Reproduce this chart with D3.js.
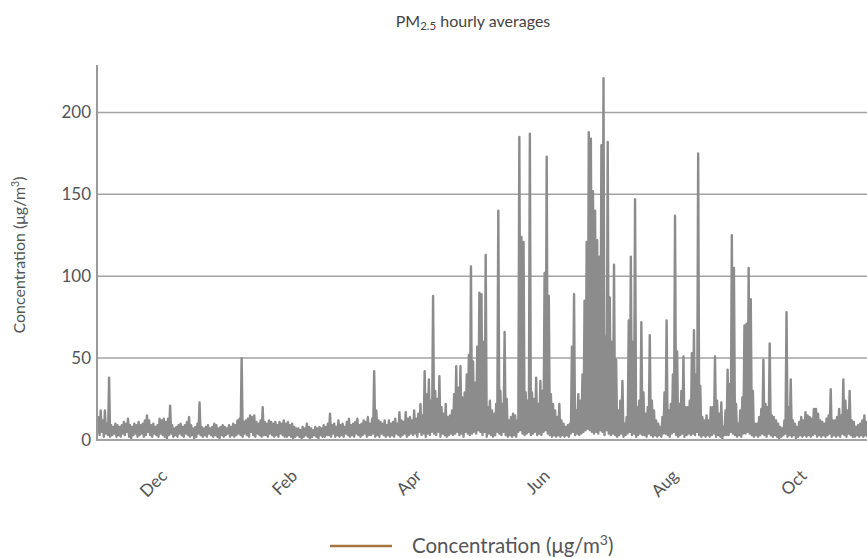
<!DOCTYPE html>
<html>
<head>
<meta charset="utf-8">
<script src="https://cdn.jsdelivr.net/npm/d3@7"></script>
<style>
  body { margin: 0; background: #fff; }
  svg { display: block; font-family: Lato, "Open Sans", sans-serif; }
</style>
</head>
<body>
<svg id="chart" width="867" height="558"></svg>
<script>
// Series start (first day of data)
const startDate = "2020-10-27";
const endDate = "2021-10-28";

// Daily peak of the hourly PM2.5 values, one per day from startDate
const dailyHigh = [
  14, 18, 12, 18, 10, 38, 9, 8, 10, 9,
  8, 9, 11, 10, 13, 9, 8, 10, 9, 11,
  9, 10, 12, 15, 12, 9, 10, 8, 9, 13,
  12, 13, 11, 13, 21, 9, 7, 8, 9, 10,
  8, 9, 11, 14, 9, 7, 8, 10, 23, 8,
  7, 8, 9, 7, 8, 10, 9, 7, 8, 9,
  8, 7, 9, 8, 10, 9, 12, 13, 50, 11,
  12, 13, 15, 14, 15, 11, 10, 12, 20, 11,
  10, 12, 11, 10, 11, 9, 11, 10, 12, 10,
  11, 9, 10, 8, 7, 7, 6, 8, 7, 10,
  8, 7, 6, 8, 7, 8, 7, 9, 8, 10,
  16, 9, 10, 8, 12, 9, 10, 8, 11, 13,
  9, 10, 11, 13, 9, 10, 12, 11, 14, 10,
  13, 42, 18, 12, 11, 10, 12, 9, 12, 10,
  11, 13, 10, 17, 12, 11, 17, 13, 14, 12,
  18, 13, 16, 22, 15, 42, 28, 37, 24, 88,
  30, 25, 39, 20, 16, 22, 14, 15, 18, 28,
  45, 32, 45, 26, 29, 40, 52, 106, 48, 35,
  57, 90, 89, 60, 113, 20, 24, 18, 16, 22,
  140, 30, 22, 66, 25, 12, 14, 16, 15, 12,
  185, 124, 121, 29, 24, 187, 29, 25, 38, 22,
  36, 30, 102, 173, 88, 28, 22, 18, 14, 22,
  12, 10, 8, 9, 10, 57, 89, 18, 28, 24,
  40, 85, 121, 188, 184, 152, 140, 122, 112, 180,
  221, 63, 182, 87, 60, 107, 49, 18, 24, 36,
  10, 14, 73, 112, 60, 147, 20, 24, 72, 29,
  16, 20, 64, 24, 18, 12, 10, 8, 14, 29,
  73, 18, 22, 40, 137, 54, 22, 30, 51, 20,
  20, 24, 53, 67, 40, 175, 33, 14, 12, 15,
  12, 20, 20, 51, 24, 16, 23, 8, 18, 43,
  34, 125, 105, 22, 10, 18, 26, 70, 71, 105,
  86, 30, 10, 10, 14, 19, 49, 22, 20, 59,
  15, 14, 12, 10, 8, 7, 12, 78, 20, 37,
  12, 10, 8, 11, 14, 12, 17, 15, 14, 13,
  19, 19, 16, 12, 11, 10, 13, 15, 31, 12,
  12, 14, 19, 15, 37, 24, 18, 30, 12, 11,
  8, 9, 10, 12, 15, 11, 12
];

// Daily low of the hourly values, same days
const dailyLow = [
  4, 3, 5, 2, 4, 3, 2, 3, 4, 2,
  3, 2, 4, 3, 5, 2, 1, 3, 4, 2,
  3, 4, 2, 3, 5, 3, 2, 4, 3, 2,
  4, 3, 2, 1, 3, 4, 2, 3, 2, 4,
  3, 2, 4, 3, 2, 3, 1, 2, 4, 3,
  2, 3, 2, 4, 3, 2, 3, 2, 1, 3,
  2, 3, 4, 2, 3, 2, 3, 4, 3, 2,
  4, 3, 2, 5, 3, 2, 4, 3, 2, 3,
  3, 2, 4, 3, 2, 3, 2, 4, 3, 2,
  2, 3, 2, 1, 2, 3, 2, 1, 2, 3,
  2, 1, 2, 3, 2, 1, 3, 2, 2, 3,
  3, 2, 4, 2, 3, 2, 3, 2, 4, 3,
  2, 3, 2, 4, 3, 2, 3, 4, 2, 3,
  3, 4, 2, 3, 2, 4, 3, 2, 3, 2,
  3, 2, 4, 3, 2, 3, 4, 2, 3, 4,
  3, 4, 2, 5, 3, 4, 2, 4, 3, 5,
  4, 3, 5, 2, 4, 3, 2, 3, 4, 3,
  4, 5, 3, 4, 2, 5, 4, 3, 4, 5,
  4, 6, 5, 3, 5, 2, 4, 3, 2, 3,
  5, 4, 3, 5, 3, 2, 3, 2, 3, 2,
  5, 6, 4, 3, 4, 5, 3, 4, 5, 3,
  4, 3, 5, 6, 4, 3, 2, 3, 2, 3,
  2, 3, 2, 3, 2, 4, 5, 3, 4, 3,
  4, 5, 6, 7, 6, 5, 4, 5, 4, 6,
  5, 3, 6, 4, 3, 4, 3, 2, 3, 4,
  2, 3, 4, 5, 3, 4, 2, 3, 4, 3,
  3, 2, 4, 3, 2, 3, 2, 3, 2, 4,
  4, 3, 2, 4, 5, 3, 2, 3, 4, 2,
  3, 4, 3, 4, 3, 5, 3, 2, 3, 2,
  3, 2, 3, 4, 2, 3, 2, 1, 3, 3,
  3, 5, 4, 3, 2, 3, 2, 4, 4, 5,
  4, 3, 2, 3, 2, 3, 4, 3, 2, 4,
  3, 2, 3, 2, 1, 2, 3, 4, 2, 3,
  2, 3, 1, 2, 3, 2, 3, 2, 3, 2,
  3, 4, 2, 3, 2, 3, 2, 3, 4, 2,
  3, 2, 3, 2, 4, 3, 2, 4, 3, 2,
  2, 3, 2, 3, 2, 3, 2
];

// Axis ticks
const xTickDates = ["2020-12-01", "2021-02-01", "2021-04-01", "2021-06-01", "2021-08-01", "2021-10-01"];
const xTickLabels = ["Dec", "Feb", "Apr", "Jun", "Aug", "Oct"];
const yTicks = [0, 50, 100, 150, 200];
const yMax = 229;

const svg = d3.select('#chart');
const margin = { top: 65, right: 0, bottom: 118, left: 97 };
const width = 867, height = 558;

const parse = d3.timeParse('%Y-%m-%d');
const t0 = parse(startDate);

const x = d3.scaleTime()
    .domain([t0, parse(endDate)])
    .range([margin.left, width - margin.right]);
const y = d3.scaleLinear()
    .domain([0, yMax])
    .range([height - margin.bottom, margin.top]);

// hourly-ish trace: low then high for each day
const points = [];
dailyHigh.forEach((hi, i) => {
    points.push({ t: d3.timeHour.offset(t0, i * 24 + 6), v: dailyLow[i] });
    points.push({ t: d3.timeHour.offset(t0, i * 24 + 18), v: hi });
});

// Gridlines
svg.append('g')
    .selectAll('line')
    .data(yTicks.filter(d => d > 0))
    .join('line')
    .attr('x1', margin.left).attr('x2', width - margin.right)
    .attr('y1', d => y(d)).attr('y2', d => y(d))
    .attr('stroke', '#a3a3a3')
    .attr('stroke-width', 1.5);

// Y axis labels
const yAxis = d3.axisLeft(y).tickValues(yTicks).tickSize(0).tickPadding(6);
svg.append('g')
    .attr('transform', `translate(${margin.left},0)`)
    .call(yAxis)
    .call(g => g.select('.domain').remove())
    .selectAll('text')
    .attr('font-size', 17)
    .attr('font-family', 'Lato, sans-serif')
    .attr('fill', '#555');

// Clip to the plot
svg.append('clipPath').attr('id', 'plot-clip')
    .append('rect')
    .attr('x', margin.left).attr('y', 0)
    .attr('width', width - margin.left - margin.right)
    .attr('height', height - margin.bottom);

const line = d3.line().x(d => x(d.t)).y(d => y(d.v));
svg.append('path')
    .datum(points)
    .attr('clip-path', 'url(#plot-clip)')
    .attr('fill', 'none')
    .attr('stroke', '#8c8c8c')
    .attr('stroke-width', 2.4)
    .attr('stroke-linejoin', 'round')
    .attr('d', line);

// Axis lines
svg.append('line')
    .attr('x1', margin.left).attr('x2', margin.left)
    .attr('y1', margin.top).attr('y2', y(0) + 1)
    .attr('stroke', '#999').attr('stroke-width', 2);
svg.append('line')
    .attr('x1', margin.left).attr('x2', width)
    .attr('y1', y(0)).attr('y2', y(0))
    .attr('stroke', '#a3a3a3').attr('stroke-width', 2);

// X axis labels
const xAxis = d3.axisBottom(x)
    .tickValues(xTickDates.map(parse))
    .tickFormat((d, i) => xTickLabels[i])
    .tickSize(0);
svg.append('g')
    .attr('transform', `translate(0,${y(0)})`)
    .call(xAxis)
    .call(g => g.select('.domain').remove())
    .selectAll('text')
    .attr('y', 0).attr('dy', 0)
    .attr('transform', 'translate(-3,37) rotate(-45)')
    .style('text-anchor', 'end')
    .attr('font-size', 17)
    .attr('font-family', 'Lato, sans-serif')
    .attr('fill', '#555');

// Title
const title = svg.append('text')
    .attr('x', 473).attr('y', 27)
    .attr('text-anchor', 'middle')
    .attr('font-size', 16)
    .attr('fill', '#444');
title.append('tspan').text('PM');
title.append('tspan').attr('font-size', 11.5).attr('dy', 3).text('2.5');
title.append('tspan').attr('dy', -3).text(' hourly averages');

// Y axis title
svg.append('text')
    .attr('transform', 'translate(25,255) rotate(-90)')
    .attr('text-anchor', 'middle')
    .attr('font-size', 16)
    .attr('fill', '#555')
    .html('Concentration (μg/m<tspan font-size="10.5" dy="-6">3</tspan><tspan dy="6">)</tspan>');

// Legend
svg.append('line')
    .attr('x1', 330).attr('x2', 392)
    .attr('y1', 546).attr('y2', 546)
    .attr('stroke', '#a5733d').attr('stroke-width', 2.5);
svg.append('text')
    .attr('x', 412).attr('y', 553)
    .attr('font-size', 20.5)
    .attr('fill', '#555')
    .html('Concentration (μg/m<tspan font-size="14" dy="-8">3</tspan><tspan dy="8">)</tspan>');
</script>
</body>
</html>
